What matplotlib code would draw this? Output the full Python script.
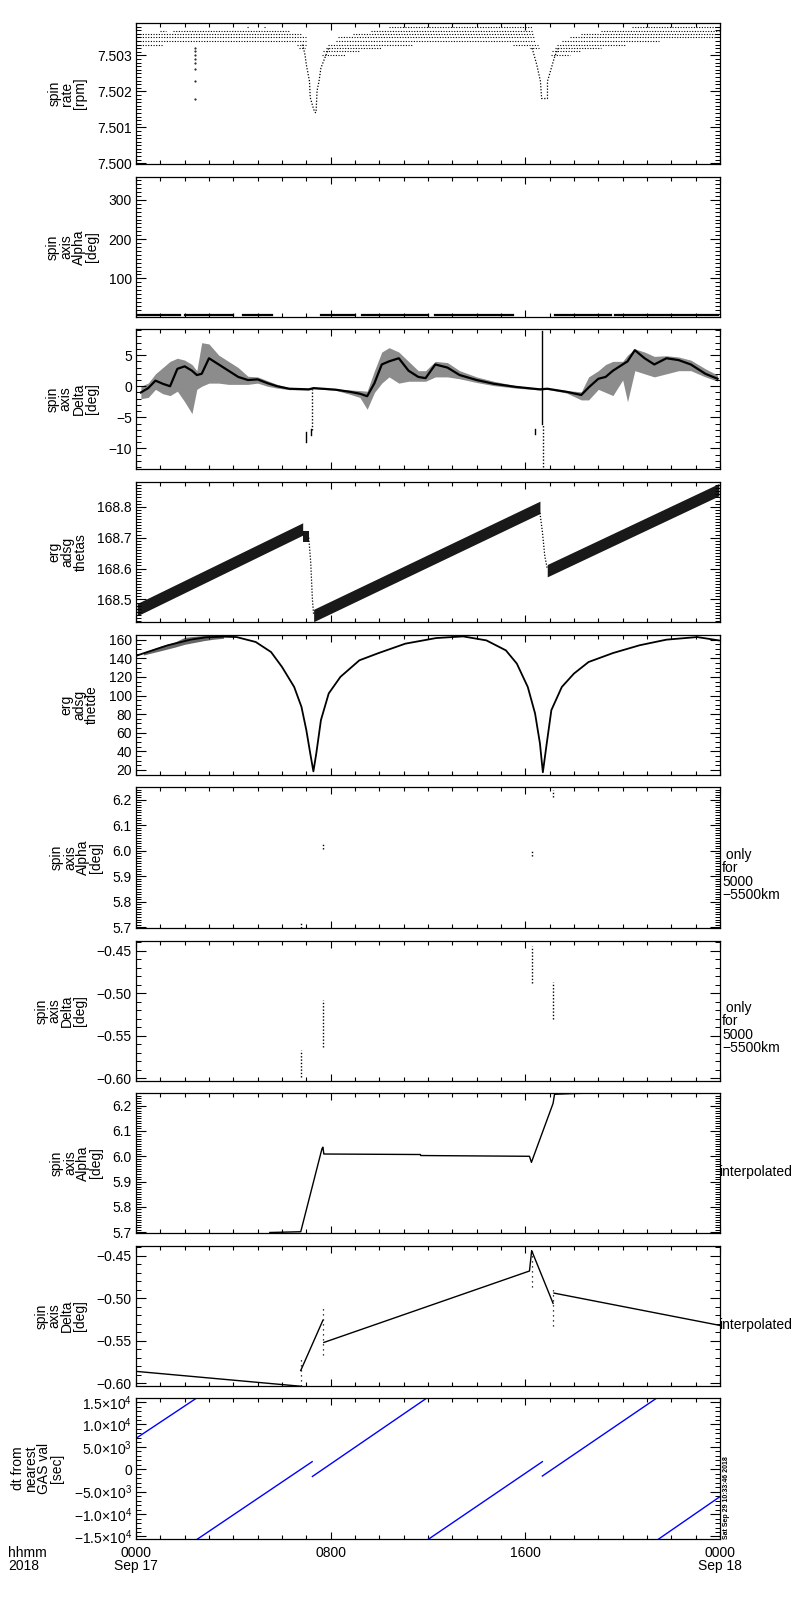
import numpy as np
import matplotlib
matplotlib.use('Agg')
import matplotlib.pyplot as plt
from matplotlib.ticker import MultipleLocator, FixedLocator, FuncFormatter

plt.rcParams['font.family'] = ['Liberation Sans', 'DejaVu Sans']
plt.rcParams['mathtext.fontset'] = 'custom'
plt.rcParams['mathtext.rm'] = 'Liberation Sans'
plt.rcParams['mathtext.default'] = 'regular'
plt.rcParams['font.size'] = 10
plt.rcParams['axes.linewidth'] = 0.9

# ---------------- data (time in hours after 2018-09-17 00:00 UT) ----------------
xtick_hours = [0, 8, 16, 24]
xtick_labels = ['0000\nSep 17', '0800', '1600', '0000\nSep 18']

# panel 1: spin rate [rpm]  (quantised levels and the time spans where they occur)
rate_levels = [7.50378, 7.50369, 7.50359, 7.50350, 7.50340, 7.50330, 7.50320, 7.50311, 7.50302]
rate_spans = [
    [(4.55, 4.65), (5.25, 5.35), (10.4, 16.3), (20.4, 23.95)],
    [(1.0, 1.25), (1.5, 6.3), (9.65, 16.3), (19.1, 23.95)],
    [(0.05, 6.8), (8.9, 16.35), (18.3, 23.95)],
    [(0.05, 7.0), (8.3, 16.4), (17.85, 23.95)],
    [(0.05, 7.0), (8.2, 16.45), (17.5, 21.5)],
    [(0.05, 1.1), (6.6, 7.0), (7.9, 11.4), (15.5, 16.5), (17.3, 20.1)],
    [(6.7, 6.95), (7.8, 10.1), (16.2, 16.55), (17.2, 19.1)],
    [(7.7, 9.2), (17.1, 18.3)],
    [(7.65, 8.6), (17.05, 17.85)],
]
rate_dip1_t = [6.85, 6.95, 7.0, 7.13, 7.16, 7.3, 7.37, 7.4, 7.44, 7.52, 7.6, 7.76, 7.92]
rate_dip1_v = [7.50330, 7.50300, 7.50274, 7.50228, 7.50183, 7.50150, 7.50141,
               7.50141, 7.50201, 7.50228, 7.50265, 7.50293, 7.50320]
rate_dip2_t = [16.28, 16.47, 16.62, 16.67, 16.91, 16.91, 17.07, 17.19, 17.35]
rate_dip2_v = [7.50320, 7.50274, 7.50228, 7.50180, 7.50180, 7.50228, 7.50265, 7.50293, 7.50320]
rate_col_t = 2.43
rate_col_v = [7.50320, 7.50311, 7.50302, 7.50290, 7.50279, 7.50261, 7.50230, 7.50179]

# panel 2: spin axis alpha [deg] (all values near 6 deg)
alpha_segments = [(0.1, 1.8), (2.0, 4.0), (4.4, 5.6), (7.6, 9.0), (9.3, 12.0),
                  (12.3, 15.5), (17.2, 19.5), (19.7, 23.9)]
alpha_value = 6.0

# panel 3: spin axis delta [deg]
delta_t = [0.2, 0.5, 0.8, 1.1, 1.4, 1.7, 2.0, 2.3, 2.5, 2.7, 3.0, 3.4, 3.8, 4.2, 4.6,
           5.0, 5.4, 5.8, 6.3, 7.1, 7.3, 8.2, 8.8, 9.2, 9.5, 9.8, 10.1, 10.4, 10.8,
           11.2, 11.6, 11.9, 12.3, 12.8, 13.3, 14.0, 14.7, 15.6, 16.6, 16.9, 17.7,
           18.3, 18.6, 19.0, 19.3, 19.6, 20.0, 20.2, 20.5, 20.9, 21.3, 21.8, 22.3,
           22.8, 23.4, 23.9]
delta_core = [-1.0, -0.3, 0.9, 0.4, 0.0, 2.8, 3.2, 2.5, 1.8, 2.0, 4.5, 3.5, 2.5, 1.5, 1.0,
              1.1, 0.5, 0.0, -0.4, -0.5, -0.3, -0.55, -0.9, -1.2, -1.6, 0.5, 3.5, 4.0, 4.5,
              2.5, 1.5, 1.3, 3.5, 3.0, 1.8, 1.0, 0.4, -0.1, -0.5, -0.4, -0.9,
              -1.4, -0.2, 1.2, 1.5, 2.5, 3.5, 4.0, 5.8, 4.5, 3.5, 4.5, 4.2,
              3.5, 2.0, 1.2]
delta_lo = [-2.0, -1.8, -0.5, -1.2, -1.5, -0.8, -2.5, -4.4, -0.5, 0.0, 0.5, 0.5, 0.3, 0.3, 0.3,
            0.5, 0.0, -0.3, -0.55, -0.6, -0.4, -0.65, -1.3, -1.8, -3.7, -1.0, 0.5, 1.5, 0.5,
            0.8, 0.8, 0.8, 1.5, 1.5, 1.2, 0.6, 0.1, -0.3, -0.6, -0.5, -1.1,
            -2.2, -2.2, -0.5, -1.0, -1.5, 1.0, -2.5, 2.5, 2.0, 1.5, 2.0, 2.5,
            2.5, 1.5, 0.8]
delta_hi = [0.0, 0.5, 2.0, 3.0, 4.0, 4.5, 4.2, 3.5, 2.5, 7.0, 6.8, 5.0, 4.0, 3.0, 1.6,
            1.5, 0.9, 0.3, -0.25, -0.4, -0.2, -0.45, -0.6, -0.7, -0.8, 2.5, 5.5, 6.2, 5.5,
            4.0, 2.5, 2.5, 4.0, 3.8, 2.5, 1.5, 0.8, 0.1, -0.4, -0.3, -0.7,
            -0.9, 1.5, 2.5, 3.5, 4.0, 4.0, 5.0, 6.0, 5.5, 4.8, 4.9, 4.7,
            4.2, 2.8, 1.8]
delta_spike_t = [7.0, 7.18, 7.23, 16.4, 16.68, 16.72]
delta_spike_lo = [-9.0, -7.9, -7.1, -7.6, -6.0, -13.0]
delta_spike_hi = [-7.4, -6.8, -0.5, -6.8, 8.8, -6.0]
delta_spike_dotted = [False, False, True, False, False, True]

# panel 4: erg adsg thetas (sawtooth band)
thetas_band_t = [[0.05, 6.85], [6.85, 7.1], [7.3, 16.6], [16.9, 23.95]]
thetas_band_lo = [[168.447, 168.708], [168.687, 168.687], [168.428, 168.778], [168.573, 168.835]]
thetas_band_hi = [[168.487, 168.748], [168.720, 168.720], [168.468, 168.818], [168.613, 168.875]]
thetas_drop_t = [[7.1, 7.18, 7.25, 7.3], [16.6, 16.7, 16.8, 16.9]]
thetas_drop_v = [[168.70, 168.62, 168.50, 168.45], [168.78, 168.72, 168.64, 168.60]]

# panel 5: erg adsg thetde
thetde_t = [0.05, 0.27, 1.3, 2.24, 2.87, 3.6, 4.13, 4.92, 5.55, 6.0, 6.5, 6.8, 7.0, 7.16, 7.29,
            7.41, 7.6, 7.92, 8.4, 9.18, 9.97, 11.07, 12.33, 13.44, 14.4, 15.2, 15.65, 16.1,
            16.4, 16.6, 16.72, 16.88, 17.07, 17.5, 18.0, 18.6, 19.6, 20.7, 21.8, 23.06, 23.95]
thetde_v = [143.0, 145.0, 153.9, 160.0, 162.5, 163.2, 162.8, 157.5, 146.7, 130.7, 109.2, 87.8,
            62.8, 37.9, 18.5, 37.9, 73.6, 102.2, 120.0, 137.8, 145.6, 155.7, 161.7, 163.5,
            159.2, 148.5, 134.3, 109.2, 80.7, 48.6, 17.5, 48.6, 84.3, 109.2, 123.6, 136.0,
            145.6, 154.0, 160.0, 162.8, 159.2]
thetde_noise_t = [0.3, 1.0, 1.6, 2.0, 2.4, 2.8, 3.2, 3.6]
thetde_noise_lo = [143.5, 148.0, 152.0, 155.0, 157.0, 159.0, 160.5, 161.5]
thetde_noise_hi = [146.5, 153.0, 157.5, 162.5, 163.5, 164.5, 164.8, 164.8]

# panels 6/7: spin axis only for 5000-5500 km (short vertical runs of points)
gas_t = [6.77, 7.68, 16.26, 17.14]
alpha_gas_lo = [5.697, 6.006, 5.980, 6.210]
alpha_gas_hi = [5.720, 6.030, 6.000, 6.240]
delta_gas_lo = [-0.598, -0.563, -0.488, -0.530]
delta_gas_hi = [-0.567, -0.508, -0.444, -0.487]

# panel 8: interpolated alpha
alpha_int_t = [5.5, 6.77, 7.64, 7.68, 7.72, 11.69, 11.7, 16.17, 16.25, 17.14, 17.2, 18.0, 20.0, 22.14]
alpha_int_v = [5.699, 5.702, 6.029, 6.036, 6.009, 6.007, 6.003, 6.000, 5.976, 6.209, 6.245,
               6.248, 6.252, 6.253]

# panel 9: interpolated delta
delta_int_t = [0.0, 6.77, np.nan, 6.77, 7.68, np.nan, 7.72, 16.17, 16.26, 17.14, np.nan, 17.18, 24.0]
delta_int_v = [-0.586, -0.6035, np.nan, -0.585, -0.526, np.nan, -0.552, -0.468, -0.444, -0.506,
               np.nan, -0.494, -0.532]
delta_int_sc_lo = [-0.603, -0.567, -0.487, -0.533]
delta_int_sc_hi = [-0.570, -0.510, -0.444, -0.488]

# panel 10: dt from nearest GAS value [sec]
dt_seg_t0 = [0.0, 2.52, 7.25, 12.02, 16.70, 21.47]
dt_seg_t1 = [2.49, 7.24, 11.95, 16.70, 21.40, 24.0]
dt_seg_v0 = [6900, -15600, -1600, -15600, -1500, -15600]
dt_seg_v1 = [15900, 1700, 15900, 1700, 15900, -6100]

# ---------------- layout ----------------
W, H = 800, 1600
fig = plt.figure(figsize=(8, 16), dpi=100)
panel_px = [(23, 164), (177, 317), (329, 469), (482, 622), (635, 775),
            (787, 928), (941, 1081), (1093, 1233), (1246, 1386), (1398, 1539)]
axes = []
for (t, b) in panel_px:
    axes.append(fig.add_axes([136 / W, 1 - b / H, 584 / W, (b - t) / H]))

MINUS = '\u2212'


def fmt_dec(n):
    return FuncFormatter(lambda v, p: (f'{v:.{n}f}').replace('-', MINUS))


def fmt_sci(v, p):
    if abs(v) < 1e-9:
        return '0'
    e = int(np.floor(np.log10(abs(v))))
    m = v / 10 ** e
    s = f'{m:.1f}'.replace('-', MINUS)
    return s + '\u00d710$^{' + str(e) + '}$'


def style(ax, ylim, major, minor, fmt, label, bottom=False):
    ax.set_xlim(0, 24)
    ax.set_ylim(*ylim)
    ax.xaxis.set_major_locator(FixedLocator(xtick_hours))
    ax.xaxis.set_minor_locator(MultipleLocator(1))
    ax.yaxis.set_major_locator(FixedLocator(major))
    ax.yaxis.set_minor_locator(MultipleLocator(minor))
    ax.yaxis.set_major_formatter(fmt)
    ax.tick_params(which='both', direction='in', top=True, right=True, width=0.8,
                   colors='black')
    ax.tick_params(axis='y', which='major', length=7, labelsize=10, pad=3)
    ax.tick_params(axis='y', which='minor', length=3.5, width=0.7)
    ax.tick_params(axis='x', which='major', length=5, labelsize=10, pad=5)
    ax.tick_params(axis='x', which='minor', length=3)
    if bottom:
        ax.set_xticklabels(xtick_labels, linespacing=0.95)
    else:
        ax.set_xticklabels([])
    ax.set_ylabel(label, fontsize=10, linespacing=0.9, labelpad=7)


dot = (0, (1, 1.4))

# panel 1
ax = axes[0]
for lv, spans in zip(rate_levels, rate_spans):
    for s, e in spans:
        ax.plot([s, e], [lv, lv], color='k', lw=0.8, ls=dot)
ax.plot(rate_dip1_t, rate_dip1_v, color='k', lw=0.9, ls=dot)
ax.plot(rate_dip2_t, rate_dip2_v, color='k', lw=0.9, ls=dot)
ax.plot([rate_col_t] * len(rate_col_v), rate_col_v, 'k.', ms=1.0)
style(ax, (7.49998, 7.5039), [7.500, 7.501, 7.502, 7.503], 0.0001, fmt_dec(3),
      'spin\nrate\n[rpm]')

# panel 2
ax = axes[1]
for s, e in alpha_segments:
    ax.plot([s, e], [alpha_value, alpha_value], color='k', lw=1.6)
style(ax, (1.5, 358.5), [100, 200, 300], 10, fmt_dec(0), 'spin\naxis\nAlpha\n[deg]')

# panel 3
ax = axes[2]
ax.fill_between(delta_t, delta_lo, delta_hi, color='k', alpha=0.45, lw=0)
ax.plot(delta_t, delta_core, color='k', lw=1.6)
for t, lo, hi, dd in zip(delta_spike_t, delta_spike_lo, delta_spike_hi, delta_spike_dotted):
    ax.plot([t, t], [lo, hi], color='k', lw=1.0, ls=dot if dd else '-')
style(ax, (-13.3, 9.2), [-10, -5, 0, 5], 1, fmt_dec(0), 'spin\naxis\nDelta\n[deg]')

# panel 4
ax = axes[3]
for t, lo, hi in zip(thetas_band_t, thetas_band_lo, thetas_band_hi):
    ax.fill_between(t, lo, hi, color='k', alpha=0.9, lw=0)
for t, v in zip(thetas_drop_t, thetas_drop_v):
    ax.plot(t, v, color='k', lw=0.9, ls=dot)
style(ax, (168.427, 168.880), [168.5, 168.6, 168.7, 168.8], 0.01, fmt_dec(1),
      'erg\nadsg\nthetas')

# panel 5
ax = axes[4]
ax.fill_between(thetde_noise_t, thetde_noise_lo, thetde_noise_hi, color='k', alpha=0.6, lw=0)
ax.plot(thetde_t, thetde_v, color='k', lw=1.3)
style(ax, (14.6, 165.0), [20, 40, 60, 80, 100, 120, 140, 160], 5, fmt_dec(0),
      'erg\nadsg\nthetde')

# panel 6
ax = axes[5]
for t, lo, hi in zip(gas_t, alpha_gas_lo, alpha_gas_hi):
    ax.plot([t, t], [lo, hi], color='k', lw=1.0, ls=dot)
style(ax, (5.697, 6.25), [5.7, 5.8, 5.9, 6.0, 6.1, 6.2], 0.01, fmt_dec(1),
      'spin\naxis\nAlpha\n[deg]')

# panel 7
ax = axes[6]
for t, lo, hi in zip(gas_t, delta_gas_lo, delta_gas_hi):
    ax.plot([t, t], [lo, hi], color='k', lw=1.0, ls=dot)
style(ax, (-0.6032, -0.4386), [-0.60, -0.55, -0.50, -0.45], 0.01, fmt_dec(2),
      'spin\naxis\nDelta\n[deg]')

# panel 8
ax = axes[7]
ax.plot(alpha_int_t, alpha_int_v, color='k', lw=1.0)
style(ax, (5.697, 6.25), [5.7, 5.8, 5.9, 6.0, 6.1, 6.2], 0.01, fmt_dec(1),
      'spin\naxis\nAlpha\n[deg]')

# panel 9
ax = axes[8]
ax.plot(delta_int_t, delta_int_v, color='k', lw=1.0)
for t, lo, hi in zip(gas_t, delta_int_sc_lo, delta_int_sc_hi):
    ax.plot([t, t], [lo, hi], color='k', lw=0.9, ls=(0, (1, 3)))
style(ax, (-0.6032, -0.4386), [-0.60, -0.55, -0.50, -0.45], 0.01, fmt_dec(2),
      'spin\naxis\nDelta\n[deg]')

# panel 10
ax = axes[9]
for t0, t1, v0, v1 in zip(dt_seg_t0, dt_seg_t1, dt_seg_v0, dt_seg_v1):
    ax.plot([t0, t1], [v0, v1], color='#0000ff', lw=1.0)
style(ax, (-15560, 15915), [-15000, -10000, -5000, 0, 5000, 10000, 15000], 1000,
      FuncFormatter(fmt_sci), 'dt from\nnearest\nGAS val\n[sec]', bottom=True)

# side labels
fig.text(722 / W, 1 - 848 / H, ' only\nfor\n5000\n\u22125500km', ha='left', va='top',
         fontsize=10, linespacing=0.95)
fig.text(722 / W, 1 - 1001 / H, ' only\nfor\n5000\n\u22125500km', ha='left', va='top',
         fontsize=10, linespacing=0.95)
fig.text(719 / W, 1 - 1172 / H, 'interpolated', ha='left', va='center', fontsize=10)
fig.text(719 / W, 1 - 1325 / H, 'interpolated', ha='left', va='center', fontsize=10)
fig.text(8 / W, 1 - 1546 / H, 'hhmm\n2018', ha='left', va='top', fontsize=10, linespacing=0.95)
fig.text(723 / W, 1 - 1539 / H, 'Sat Sep 29 10:33:46 2018', rotation=90, ha='left',
         va='bottom', fontsize=5, fontweight='bold')

fig.savefig('out.png', dpi=100, facecolor='white')
